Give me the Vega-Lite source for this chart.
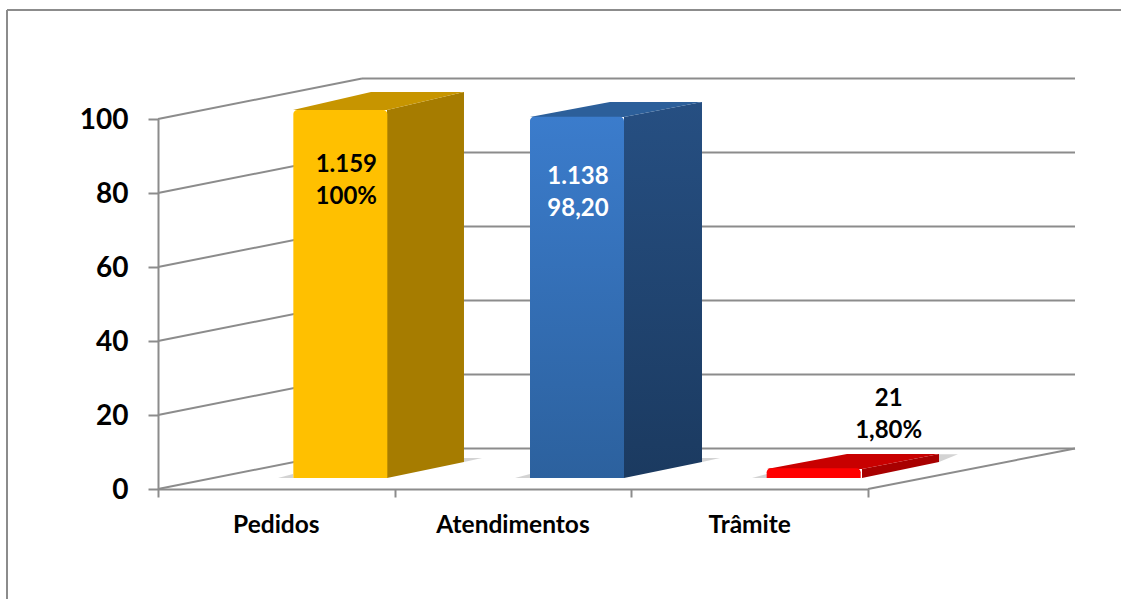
{
"$schema":"https://vega.github.io/schema/vega-lite/v6.json",
"width":710,"height":370,
"autosize":{"type":"none"},
"padding":{"left":158,"top":119,"right":253,"bottom":110},
"background":"white",
"config":{"view":{"stroke":null}},
"datasets":{
"barras":[
{"categoria":"Pedidos","valor":100,"rotulo":"1.159\n100%"},
{"categoria":"Atendimentos","valor":98.2,"rotulo":"1.138\n98,20"},
{"categoria":"Trâmite","valor":1.8,"rotulo":"21\n1,80%"}],
"grade":[{"g":0},{"g":20},{"g":40},{"g":60},{"g":80},{"g":100}],
"direita":[{"g":0}],
"moldura":[{"x":-0.638,"x2":4.1,"y":129.46,"y2":129.46},{"x":-0.638,"x2":-0.638,"y":129.46,"y2":-30}],
"faces":[
{"face":"a_lado","p":0.9676,"topo":102.43,"base":2.97},{"face":"a_lado","p":1.2929,"topo":107.3,"base":7.3},
{"face":"a_topo","p":0.5704,"topo":102.43,"base":102.43},{"face":"a_topo","p":0.9,"topo":107.3,"base":102.43},{"face":"a_topo","p":0.9676,"topo":107.3,"base":102.43},{"face":"a_topo","p":1.2929,"topo":107.3,"base":107.3},
{"face":"b_lado","p":1.969,"topo":100.54,"base":2.97},{"face":"b_lado","p":2.2986,"topo":104.6,"base":7.3},
{"face":"b_topo","p":1.5718,"topo":100.54,"base":100.54},{"face":"b_topo","p":1.9098,"topo":104.6,"base":100.54},{"face":"b_topo","p":1.969,"topo":104.6,"base":100.54},{"face":"b_topo","p":2.2986,"topo":104.6,"base":104.6},
{"face":"c_lado","p":2.9746,"topo":5.41,"base":2.97},{"face":"c_lado","p":3.3,"topo":9.46,"base":7.3},
{"face":"c_topo","p":2.5732,"topo":5.41,"base":5.41},{"face":"c_topo","p":2.9113,"topo":9.46,"base":5.41},{"face":"c_topo","p":2.9746,"topo":9.46,"base":5.41},{"face":"c_topo","p":3.3,"topo":9.46,"base":9.46},
{"face":"s1","p":0.507,"topo":2.97,"base":2.97},{"face":"s1","p":0.5704,"topo":4.05,"base":2.97},
{"face":"s2","p":1.2929,"topo":8.38,"base":7.3},{"face":"s2","p":1.369,"topo":8.38,"base":8.38},
{"face":"s3","p":1.5085,"topo":2.97,"base":2.97},{"face":"s3","p":1.5718,"topo":4.05,"base":2.97},
{"face":"s4","p":2.2986,"topo":8.38,"base":7.3},{"face":"s4","p":2.3746,"topo":8.38,"base":8.38},
{"face":"s5","p":2.51,"topo":2.97,"base":2.97},{"face":"s5","p":2.5732,"topo":4.05,"base":2.97},
{"face":"s6","p":3.3,"topo":9.4,"base":7.3},{"face":"s6","p":3.38,"topo":9.4,"base":9.4}
]},
"resolve":{"scale":{"x":"independent"},"axis":{"x":"independent"}},
"layer":[
{"layer":[
{"data":{"name":"moldura"},"mark":{"type":"rule","color":"#8c8c8c","strokeWidth":2},
 "encoding":{"x":{"field":"x","type":"quantitative","title":null,"scale":{"domain":[0,3],"nice":false,"zero":false},
 "axis":{"orient":"bottom","values":[0,1,2,3],"labels":false,"grid":false,"title":null,"domainColor":"#8c8c8c","domainWidth":2,"tickColor":"#8c8c8c","tickWidth":2,"tickSize":8}},"x2":{"field":"x2"},
 "y":{"field":"y","type":"quantitative","title":null,"scale":{"domain":[0,100],"nice":false},
 "axis":{"orient":"left","values":[0,20,40,60,80,100],"grid":false,"title":null,"domainColor":"#8c8c8c","domainWidth":2,"tickColor":"#8c8c8c","tickWidth":2,"tickSize":10,"labelPadding":20,"labelFont":"Lato","labelFontWeight":"bold","labelFontSize":28,"labelOffset":1,"labelColor":"#000000"}},"y2":{"field":"y2"}}},
{"data":{"name":"grade"},"mark":{"type":"rule","color":"#8c8c8c","strokeWidth":2,"xOffset":204,"x2Offset":207,"yOffset":-40.5},
 "encoding":{"x":{"datum":0,"type":"quantitative"},"x2":{"datum":3},
 "y":{"field":"g","type":"quantitative"}}},
{"data":{"name":"grade"},"mark":{"type":"rule","color":"#8c8c8c","strokeWidth":2,"x2Offset":204,"y2Offset":-40.5},
 "encoding":{"x":{"datum":0,"type":"quantitative"},"x2":{"datum":0},
 "y":{"field":"g","type":"quantitative"},"y2":{"field":"g"}}},
{"data":{"name":"direita"},"mark":{"type":"rule","color":"#8c8c8c","strokeWidth":2,"x2Offset":207,"y2Offset":-40.5},
 "encoding":{"x":{"datum":3,"type":"quantitative"},"x2":{"datum":3},
 "y":{"field":"g","type":"quantitative"},"y2":{"field":"g"}}},
{"data":{"name":"faces"},"transform":[{"filter":"indexof(datum.face,'s')==0"}],"mark":{"type":"area","color":"#b5b5b5","opacity":0.6},
 "encoding":{"x":{"field":"p","type":"quantitative"},"y":{"field":"topo","type":"quantitative"},"y2":{"field":"base"},"detail":{"field":"face"}}},
{"data":{"name":"faces"},"transform":[{"filter":"datum.face=='a_lado'"}],"mark":{"type":"area","color":"#a67c00"},
 "encoding":{"x":{"field":"p","type":"quantitative"},"y":{"field":"topo","type":"quantitative"},"y2":{"field":"base"}}},
{"data":{"name":"faces"},"transform":[{"filter":"datum.face=='a_topo'"}],"mark":{"type":"area","color":"#c79500"},
 "encoding":{"x":{"field":"p","type":"quantitative"},"y":{"field":"topo","type":"quantitative"},"y2":{"field":"base"}}},
{"data":{"name":"faces"},"transform":[{"filter":"datum.face=='b_lado'"}],"mark":{"type":"area","color":{"gradient":"linear","x1":0,"y1":0,"x2":0,"y2":1,"stops":[{"offset":0,"color":"#264f82"},{"offset":1,"color":"#1b3a60"}]}},
 "encoding":{"x":{"field":"p","type":"quantitative"},"y":{"field":"topo","type":"quantitative"},"y2":{"field":"base"}}},
{"data":{"name":"faces"},"transform":[{"filter":"datum.face=='b_topo'"}],"mark":{"type":"area","color":"#2c5f9a"},
 "encoding":{"x":{"field":"p","type":"quantitative"},"y":{"field":"topo","type":"quantitative"},"y2":{"field":"base"}}},
{"data":{"name":"faces"},"transform":[{"filter":"datum.face=='c_lado'"}],"mark":{"type":"area","color":"#a80000"},
 "encoding":{"x":{"field":"p","type":"quantitative"},"y":{"field":"topo","type":"quantitative"},"y2":{"field":"base"}}},
{"data":{"name":"faces"},"transform":[{"filter":"datum.face=='c_topo'"}],"mark":{"type":"area","color":"#c80000"},
 "encoding":{"x":{"field":"p","type":"quantitative"},"y":{"field":"topo","type":"quantitative"},"y2":{"field":"base"}}}
]},
{"data":{"name":"barras"},
 "encoding":{"x":{"field":"categoria","type":"nominal","scale":{"domain":["Pedidos","Atendimentos","Trâmite"]},
 "axis":{"orient":"bottom","title":null,"labelAngle":0,"ticks":false,"domain":false,"grid":false,"labelPadding":24,"labelFont":"Lato","labelFontWeight":"bold","labelFontSize":24.5,"labelColor":"#000000"}},
 "y":{"field":"valor","type":"quantitative","title":null}},
 "layer":[
 {"transform":[{"filter":"datum.categoria=='Pedidos'"}],"mark":{"type":"bar","width":94,"xOffset":64,"yOffset":-9,"y2Offset":-11,"color":"#ffc000","cornerRadiusTopLeft":4,"cornerRadiusTopRight":4},"encoding":{"y2":{"datum":0}}},
 {"transform":[{"filter":"datum.categoria=='Atendimentos'"}],"mark":{"type":"bar","width":94,"xOffset":64,"yOffset":-9,"y2Offset":-11,"cornerRadiusTopLeft":4,"cornerRadiusTopRight":4,"color":{"gradient":"linear","x1":0,"y1":0,"x2":0,"y2":1,"stops":[{"offset":0,"color":"#3b7ccc"},{"offset":1,"color":"#2c619e"}]}},"encoding":{"y2":{"datum":0}}},
 {"transform":[{"filter":"datum.categoria=='Trâmite'"}],"mark":{"type":"bar","width":94,"xOffset":64,"yOffset":-14,"y2Offset":-11,"color":"#ff0000","cornerRadiusTopLeft":4,"cornerRadiusTopRight":4},"encoding":{"y2":{"datum":0}}},
 {"transform":[{"filter":"datum.categoria=='Pedidos'"}],"mark":{"type":"text","font":"Lato","fontWeight":"bold","fontSize":24,"lineBreak":"\n","lineHeight":32,"baseline":"alphabetic","align":"center","xOffset":70,"yOffset":53,"color":"#000000"},"encoding":{"text":{"field":"rotulo"}}},
 {"transform":[{"filter":"datum.categoria=='Atendimentos'"}],"mark":{"type":"text","font":"Lato","fontWeight":"bold","fontSize":24,"lineBreak":"\n","lineHeight":32,"baseline":"alphabetic","align":"center","xOffset":65,"yOffset":58,"color":"#ffffff"},"encoding":{"text":{"field":"rotulo"}}},
 {"transform":[{"filter":"datum.categoria=='Trâmite'"}],"mark":{"type":"text","font":"Lato","fontWeight":"bold","fontSize":24,"lineBreak":"\n","lineHeight":32,"baseline":"alphabetic","align":"center","xOffset":139,"yOffset":-76,"color":"#000000"},"encoding":{"text":{"field":"rotulo"}}}
 ]}
]
}
